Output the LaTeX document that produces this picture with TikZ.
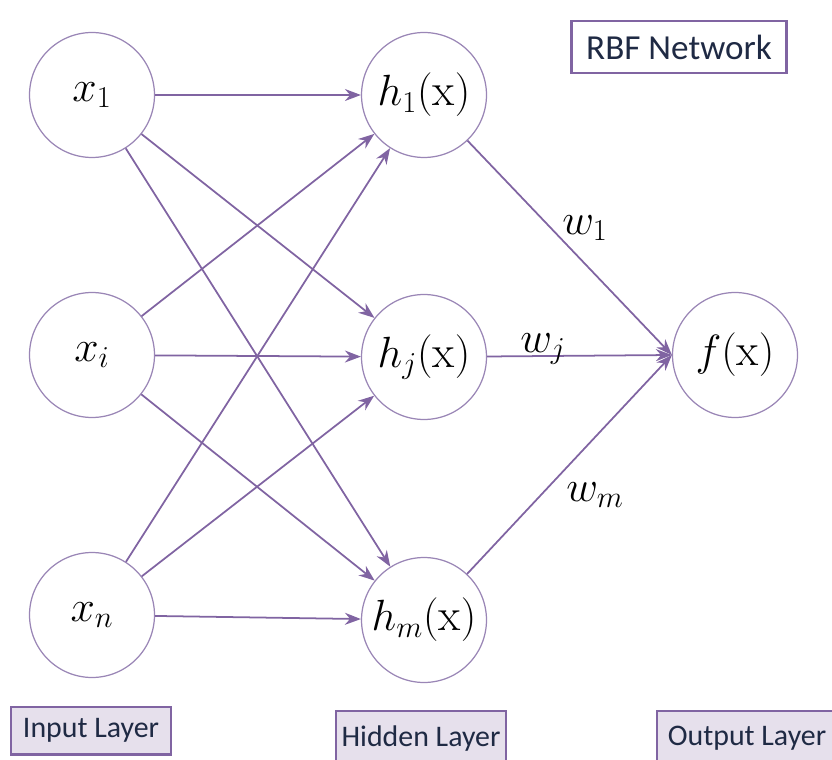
\documentclass[tikz,border=0pt]{standalone}
\usepackage{fontspec}
\setsansfont{Carlito}
\usetikzlibrary{arrows.meta}
\definecolor{rbfline}{HTML}{8064A2}
\definecolor{rbfring}{HTML}{9A86B6}
\definecolor{rbffill}{HTML}{E6E0EC}
\definecolor{rbftext}{HTML}{1F2A44}
\tikzset{
  neu/.style={circle, draw=rbfring, line width=0.7pt, fill=white, minimum size=2.5cm, inner sep=0pt, font=\fontsize{26}{28}\selectfont},
  lay/.style={draw=rbfline, line width=1.2pt, fill=rbffill, font=\sffamily\fontsize{17}{19}\selectfont, text=rbftext, anchor=north west, inner sep=0pt},
  ttl/.style={draw=rbfline, line width=1.2pt, fill=white, font=\sffamily\fontsize{20}{22}\selectfont, text=rbftext, inner sep=0pt},
  wl/.style={font=\fontsize{23}{25}\selectfont},
  cn/.style={-{Stealth[length=3.2mm, width=2.4mm]}, rbfline, line width=1pt},
}
\begin{document}
\begin{tikzpicture}[x=0.02cm, y=-0.02cm]
\useasboundingbox (0,0) rectangle (832,760);
% input layer
\node[neu] (x1) at (92,95) {$x_1$};
\node[neu] (xi) at (92,355) {$x_i$};
\node[neu] (xn) at (92,615) {$x_n$};
% hidden layer
\node[neu] (h1) at (424,95) {$h_1(\mathrm{x})$};
\node[neu] (hj) at (424,357) {$h_j(\mathrm{x})$};
\node[neu] (hm) at (424,620) {$h_m(\mathrm{x})$};
% output
\node[neu] (f) at (735,355) {$f(\mathrm{x})$};
% connectors
\foreach \a in {x1,xi,xn}
  \foreach \b in {h1,hj,hm}
    \draw[cn] (\a) -- (\b);
\draw[cn] (h1) -- (f.west);
\draw[cn] (hj) -- (f.west);
\draw[cn] (hm) -- (f.west);
% weights
\node[wl] (w1) at (585,228) {$w_1$};
\node[wl] (wj) at (543,349) {$w_j$};
\node[wl] (wm) at (595,495) {$w_m$};
% captions
\node[ttl, minimum width=4.3cm, minimum height=1.05cm] (title) at (679,47) {RBF Network};
\node[lay, minimum width=3.2cm, minimum height=0.95cm] (inl) at (10,706) {Input Layer};
\node[lay, minimum width=3.4cm, minimum height=1.1cm] (hil) at (335,710) {Hidden Layer};
\node[lay, minimum width=3.6cm, minimum height=1.1cm] (oul) at (656,710) {Output Layer};
\end{tikzpicture}
\end{document}
